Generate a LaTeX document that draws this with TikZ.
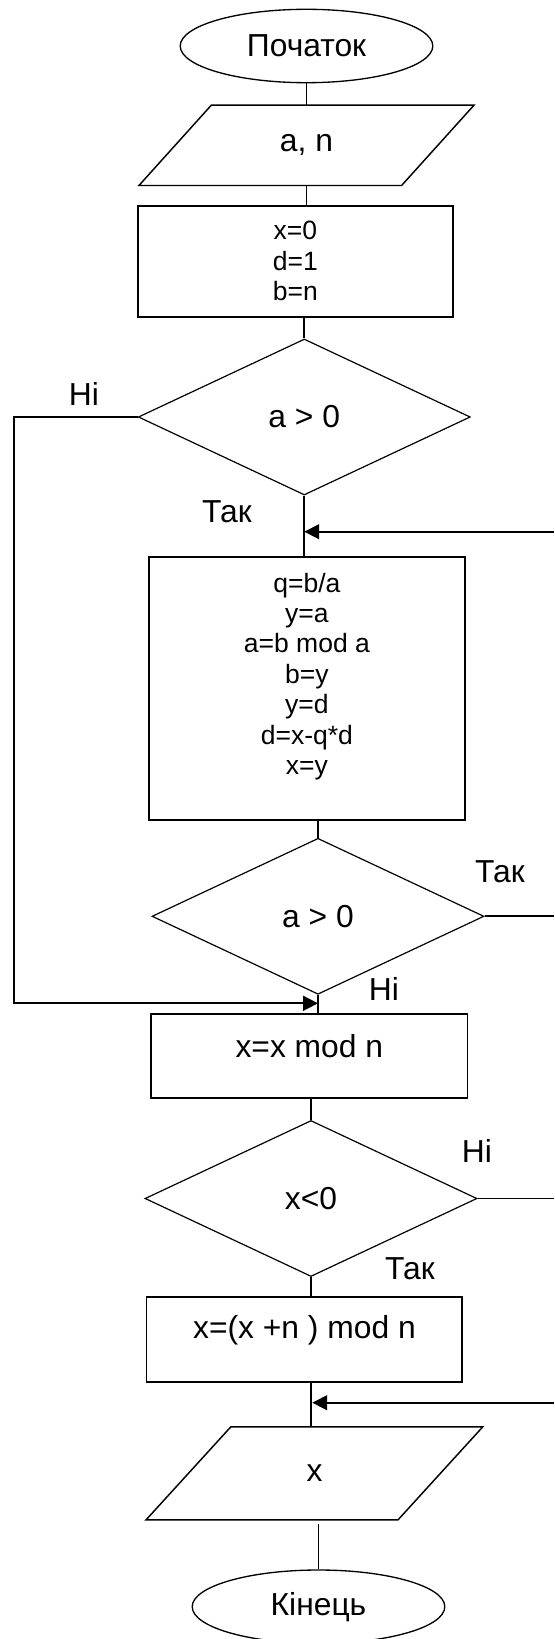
\documentclass[tikz,border=0pt]{standalone}
\usepackage{fontspec}
\setmainfont{Liberation Sans}
\usetikzlibrary{shapes.geometric,arrows.meta,calc}
\newcommand\pxu{0.3774pt}
\begin{document}
\begin{tikzpicture}[x=\pxu, y=-\pxu,
  big/.style={font=\fontsize{12}{14}\selectfont},
  small/.style={font=\fontsize{10}{11.5}\selectfont, align=center},
  term/.style={ellipse, draw, line width=0.5pt, inner sep=0pt, minimum width=252.6*\pxu, minimum height=73.4*\pxu, big},
  proc/.style={rectangle, draw, line width=0.65pt, inner sep=0pt},
  iobox/.style={rectangle, draw=none, inner sep=0pt, big},
  iol/.style={line width=0.55pt, line join=miter},
  dec/.style={diamond, draw, line width=0.45pt, inner sep=0pt, minimum width=332*\pxu, minimum height=156*\pxu, big},
  conn/.style={line width=0.65pt},
  arr/.style={conn, -{Triangle[length=5.6pt,width=5.6pt]}},
  lbl/.style={big, inner sep=0pt}]
\clip (0,0) rectangle (554,1639);

% nodes
\node[term] (e1) at (306.5,46) {Початок};
\node[iobox, minimum width=334*\pxu, minimum height=79.3*\pxu] (p1) at (306.5,145.3) {a, n};
\draw[iol] ($(p1.north west)+(72.4,0)$) -- (p1.north east) -- ($(p1.south east)+(-72.4,0)$) -- (p1.south west) -- cycle;
\node[proc, small, minimum width=315.2*\pxu, minimum height=111*\pxu] (r1) at (295.4,261.2) {x=0\\d=1\\b=n};
\node[dec] (d1) at (304.3,417) {a > 0};
\node[proc, minimum width=315.6*\pxu, minimum height=263.3*\pxu,
  label={[small, yshift=4.45pt]center:{q=b/a\\y=a\\a=b mod a\\b=y\\y=d\\d=x-q*d\\x=y}}] (b2) at (306.9,688.35) {};
\node[dec] (d2) at (318,916.3) {a > 0};
\node[proc, minimum width=316.3*\pxu, minimum height=84*\pxu,
  label={[big, yshift=3.9pt]center:{x=x mod n}}] (b3) at (309.35,1056.3) {};
\node[dec] (d3) at (311,1198.5) {x<0};
\node[proc, minimum width=315.7*\pxu, minimum height=85*\pxu,
  label={[big, yshift=3.5pt]center:{x=(x +n ) mod n}}] (b4) at (304.45,1339.8) {};
\node[iobox, minimum width=335.7*\pxu, minimum height=92*\pxu] (p2) at (314.45,1473.3) {x};
\draw[iol] ($(p2.north west)+(84.8,0)$) -- (p2.north east) -- ($(p2.south east)+(-84.8,0)$) -- (p2.south west) -- cycle;
\node[term] (e2) at (318.5,1606.7) {Кінець};

% labels
\node[lbl] (l1) at (84,394) {Ні};
\node[lbl] (l2) at (227,512) {Так};
\node[lbl] (l3) at (500,872) {Так};
\node[lbl] (l4) at (384,989) {Ні};
\node[lbl] (l5) at (477,1151) {Ні};
\node[lbl] (l6) at (410,1269) {Так};

% helper coordinates
\coordinate (lc) at (14,0);
\coordinate (redge) at (554,0);
\coordinate (in1) at (554,531.7);
\coordinate (in2) at (554,1402.7);
\coordinate (j1) at ($(d2.south)+(0,8.4)$);

% connectors
\draw[conn] (e1.south) -- (p1.north);
\draw[conn] (p1.south) -- (p1.south |- r1.north);
\draw[conn] (d1.north |- r1.south) -- (d1.north);
\draw[conn] (d1.south) -- (d1.south |- b2.north);
\draw[arr] (in1) -- (in1 -| d1.south);
\draw[arr] (d1.west) -- (d1.west -| lc) |- (j1);
\draw[conn] (d2.north |- b2.south) -- (d2.north);
\draw[conn] (d2.east) -- (d2.east -| redge);
\draw[conn] (d2.south) -- ($(d2.south |- b3.north)+(0,2)$);
\draw[conn] (d3.north |- b3.south) -- (d3.north);
\draw[conn] (d3.east) -- (d3.east -| redge);
\draw[conn] (d3.south) -- (d3.south |- b4.north);
\draw[conn] (d3.south |- b4.south) -- (d3.south |- p2.north);
\draw[arr, shorten >=0.5pt] (in2) -- (in2 -| d3.south);
\draw[conn] ($(e2.north |- p2.south)+(0,4)$) -- (e2.north);
\end{tikzpicture}
\end{document}
